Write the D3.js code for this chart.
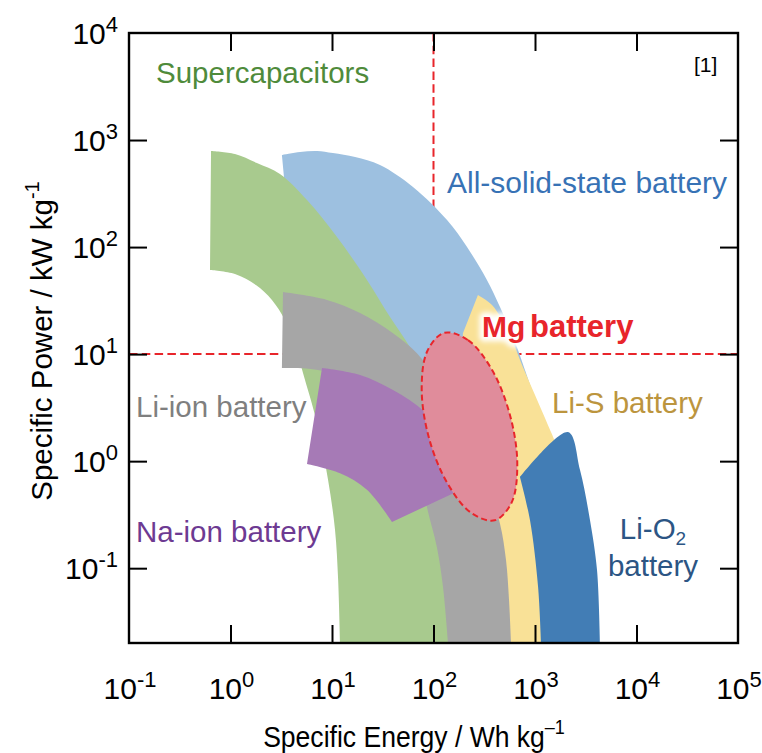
<!DOCTYPE html>
<html>
<head>
<meta charset="utf-8">
<script src="https://cdn.jsdelivr.net/npm/d3@7"></script>
<style>
  body { margin: 0; background: #fff; }
  svg text { font-family: "Liberation Sans", Arial, Helvetica, sans-serif; }
</style>
</head>
<body>
<svg class="ragone" width="762" height="753"></svg>
<script>
// axis ranges and ticks
var energyDomain = [0.1, 1e5];
var powerDomain = [0.02, 1e4];
var energyTicks = [0.1, 1, 10, 100, 1000, 10000, 100000];
var powerTicks = [0.1, 1, 10, 100, 1000, 10000];

// reference lines (10 kW/kg, 100 Wh/kg)
var powerLine = [[0.1, 10], [1e5, 10]];
var energyLine = [[100, 1e4], [100, 10]];

// regions, [Wh/kg, kW/kg]
var superCapOuter = [[0.643, 791], [1.107, 741], [1.82, 611], [3.07, 482], [5.67, 275], [11.2, 124],
    [22.1, 49.3], [37.3, 22.2], [58.6, 11.6], [82.4, 6.38], [116, 2.42], [146, 0.67], [167, 0.119], [182, 0.02]];
var superCapInner = [[0.628, 61.1], [1.107, 56.1], [1.78, 44.2], [2.56, 32.1], [3.44, 20.8], [4.32, 12.2],
    [5.18, 6.65], [7.11, 2.27], [9.14, 0.67], [10.7, 0.23], [11.5, 0.077], [12.0, 0.02]];

var solidStateOuter = [[3.21, 726], [4.84, 774], [7.11, 791], [10.2, 757], [16.9, 695], [29.7, 585],
    [62.8, 365], [136, 179], [214, 100], [336, 49.3], [452, 27.5], [665, 11.6], [796, 7.1], [934, 4.61]];
var solidStateInner = [[3.37, 443], [6.8, 200], [15.7, 68.1], [35.6, 20.8], [92.4, 5.73], [204, 1.57]];

var liSRight = [[274, 35.7], [377, 28.8], [567, 15.1], [745, 7.91], [1000, 4.15], [1343, 2.17],
    [1610, 1.41], [2019, 0.43], [2421, 0.02]];
var liSLeft = [[506, 0.02], [452, 0.077], [360, 0.23], [204, 1.57], [195, 15.7]];

var liIonOuter = [[3.29, 38.0], [8.93, 32.1], [18.9, 24.2], [39.9, 15.7], [68.7, 10.2], [116, 5.14],
    [204, 1.95], [321, 0.74], [452, 0.26], [518, 0.119], [555, 0.05], [581, 0.02]];
var liIonInner = [[3.21, 7.41], [7.28, 7.1], [18.9, 5.14], [41.8, 2.42], [73.6, 0.83], [86.3, 0.37],
    [108, 0.157], [124, 0.067], [139, 0.02]];

var naIonTop = [[7.97, 7.41], [18.9, 6.38], [39.9, 4.61], [82.4, 2.88], [146, 1.57]];
var naIonCorner = [[146, 1.57], [163, 0.51], [39.0, 0.27]];
var naIonBottom = [[5.67, 0.94], [12.0, 0.77], [22.1, 0.54], [39.0, 0.27]];

var liO2Right = [[711, 0.71], [2113, 1.87], [2773, 0.83], [3483, 0.28], [4083, 0.096], [4365, 0.02]];
var liO2Left = [[1146, 0.02], [1072, 0.067], [893, 0.28], [711, 0.71]];

var mgOutline = [[127, 15.8], [219, 13.5], [378, 7.1], [569, 2.66], [669, 0.94], [588, 0.41],
    [400, 0.28], [234, 0.33], [136, 0.63], [90, 1.66], [76.5, 4.72], [87, 10.7]];

var svg = d3.select(".ragone");

var x = d3.scaleLog().domain(energyDomain).range([129, 738]);
var y = d3.scaleLog().domain(powerDomain).range([643, 33]);

var edgeLine = d3.line()
    .x(function(d) { return x(d[0]); })
    .y(function(d) { return y(d[1]); })
    .curve(d3.curveCatmullRom.alpha(0.5));
var straight = d3.line()
    .x(function(d) { return x(d[0]); })
    .y(function(d) { return y(d[1]); });

// each edge is [points, curved?]; edges are joined end to end
function region(edges) {
    return edges.map(function(e, i) {
        var s = (e[1] ? edgeLine : straight)(e[0]).replace(/Z$/, "");
        return i === 0 ? s : "L" + s.slice(1);
    }).join("") + "Z";
}
function rev(a) { return a.slice().reverse(); }

var red = "#e8252b";

// dashed guide lines sit under everything
[powerLine, energyLine].forEach(function(l) {
    svg.append("path")
        .attr("d", straight(l))
        .attr("fill", "none")
        .attr("stroke", red)
        .attr("stroke-width", 2)
        .attr("stroke-dasharray", "8.5,4.3");
});

var regions = [
    {edges: [[solidStateOuter, 1], [rev(solidStateInner), 1]], fill: "#9dc0e0"},
    {edges: [[liSRight, 1], [liSLeft, 1]], fill: "#f9e197"},
    {edges: [[superCapOuter, 1], [rev(superCapInner), 1]], fill: "#a8ca8e"},
    {edges: [[liIonOuter, 1], [rev(liIonInner), 1]], fill: "#a6a6a6"},
    {edges: [[naIonTop, 1], [naIonCorner, 0], [rev(naIonBottom), 1]], fill: "#a67ab6"},
    {edges: [[liO2Right, 1], [liO2Left, 1]], fill: "#427db5"}
];

svg.selectAll("path.area")
    .data(regions)
    .enter().append("path")
    .attr("class", "area")
    .attr("d", function(d) { return region(d.edges); })
    .attr("fill", function(d) { return d.fill; });

svg.append("path")
    .datum(mgOutline)
    .attr("d", d3.line()
        .x(function(d) { return x(d[0]); })
        .y(function(d) { return y(d[1]); })
        .curve(d3.curveCatmullRomClosed.alpha(0.5)))
    .attr("fill", "#e08c9b")
    .attr("stroke", red)
    .attr("stroke-width", 2)
    .attr("stroke-dasharray", "6,3.5");

// frame + inward ticks
svg.append("rect")
    .attr("x", x(energyDomain[0])).attr("y", y(powerDomain[1]))
    .attr("width", x(energyDomain[1]) - x(energyDomain[0]))
    .attr("height", y(powerDomain[0]) - y(powerDomain[1]))
    .attr("fill", "none").attr("stroke", "#000").attr("stroke-width", 2.4);

var innerE = energyTicks.slice(1, -1);
var innerP = powerTicks.slice(0, -1);

function tickAxis(axis, tr) {
    var g = svg.append("g").attr("transform", tr).call(axis);
    g.select(".domain").remove();
    g.selectAll("line").attr("stroke", "#000").attr("stroke-width", 2);
}
tickAxis(d3.axisBottom(x).tickValues(innerE).tickSize(-18).tickFormat(""), "translate(0," + y(powerDomain[0]) + ")");
tickAxis(d3.axisTop(x).tickValues(innerE).tickSize(-18).tickFormat(""), "translate(0," + y(powerDomain[1]) + ")");
tickAxis(d3.axisLeft(y).tickValues(innerP).tickSize(-18).tickFormat(""), "translate(" + x(energyDomain[0]) + ",0)");
tickAxis(d3.axisRight(y).tickValues(innerP).tickSize(-18).tickFormat(""), "translate(" + x(energyDomain[1]) + ",0)");

function expLabel(sel, v) {
    var e = Math.round(Math.log10(v));
    sel.append("tspan").text("10");
    sel.append("tspan").attr("font-size", 22).attr("dy", -12).text(e < 0 ? "-" + (-e) : e);
}

energyTicks.forEach(function(v) {
    var t = svg.append("text")
        .attr("x", x(v) + 1).attr("y", 699)
        .attr("text-anchor", "middle")
        .attr("font-size", 30);
    expLabel(t, v);
});
powerTicks.forEach(function(v) {
    var t = svg.append("text")
        .attr("x", 118).attr("y", y(v) + 11)
        .attr("text-anchor", "end")
        .attr("font-size", 30);
    expLabel(t, v);
});

// axis titles (the x title is set a little narrower in the original)
var xt = svg.append("text")
    .attr("transform", "translate(414,747) scale(0.9,1)")
    .attr("text-anchor", "middle")
    .attr("font-size", 29.5);
xt.append("tspan").text("Specific Energy / Wh kg");
xt.append("tspan").attr("font-size", 20).attr("dy", -13).text("\u20131");

var yt = svg.append("text")
    .attr("transform", "translate(52,341) rotate(-90)")
    .attr("text-anchor", "middle")
    .attr("font-size", 29.5);
yt.append("tspan").text("Specific Power / kW kg");
yt.append("tspan").attr("font-size", 20).attr("dy", -13).text("-1");

// region labels
function label(txt, px, py, col, anchor, size) {
    return svg.append("text")
        .attr("x", px).attr("y", py)
        .attr("fill", col)
        .attr("font-size", size || 29.5)
        .attr("text-anchor", anchor || "start")
        .text(txt);
}
label("Supercapacitors", 156, 83, "#4f8b3b");
label("All-solid-state battery", 447, 193, "#3772b5", "start", 30);
label("Li-ion battery", 136, 417, "#7f7f7f");
label("Na-ion battery", 136, 542, "#6d3a92");
label("Li-S battery", 552, 413, "#bc953e");
var o2 = label("Li-O", 653, 539, "#2c5584", "middle");
o2.append("tspan").attr("font-size", 19).attr("dy", 6).text("2");
label("battery", 653, 576, "#2c5584", "middle");

svg.append("text")
    .attr("x", 694).attr("y", 72)
    .attr("font-size", 21)
    .text("[1]");

// Mg battery, with white glow behind
var defs = svg.append("defs");
defs.append("filter").attr("id", "glow")
    .attr("x", "-30%").attr("y", "-50%").attr("width", "160%").attr("height", "200%")
    .append("feGaussianBlur").attr("stdDeviation", 2.5);

var mgParts = [["Mg", 482, 30], ["battery", 530, 31]];
mgParts.forEach(function(m) {
    svg.append("text")
        .attr("x", m[1]).attr("y", 337)
        .attr("font-size", m[2]).attr("font-weight", "bold")
        .attr("fill", "#fff").attr("stroke", "#fff").attr("stroke-width", 9)
        .attr("stroke-linejoin", "round")
        .attr("filter", "url(#glow)")
        .text(m[0]);
});
mgParts.forEach(function(m) {
    svg.append("text")
        .attr("x", m[1]).attr("y", 337)
        .attr("font-size", m[2]).attr("font-weight", "bold")
        .attr("fill", red)
        .text(m[0]);
});
</script>
</body>
</html>
